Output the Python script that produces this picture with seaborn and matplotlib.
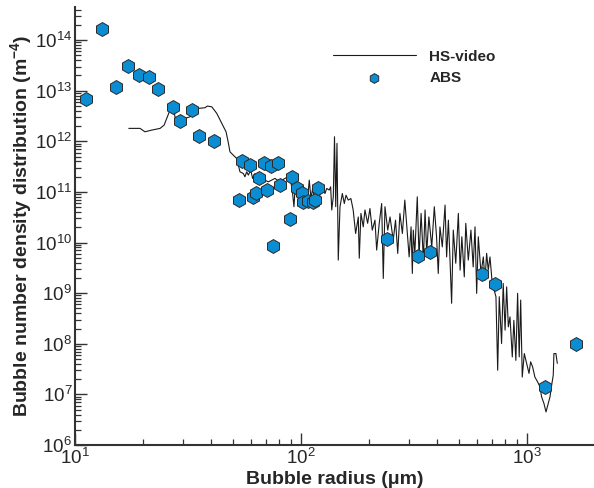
import numpy as np
import pandas as pd
import matplotlib
matplotlib.use("Agg")
import matplotlib.pyplot as plt
from matplotlib.ticker import LogLocator, NullFormatter
import seaborn as sns

# ---------------- data ----------------
abs_radius = [11.2, 13.2, 15.2, 17.2, 19.2, 21.2, 23.3, 27.2, 29.2, 33.0, 35.4, 41.4,
              53.2, 54.8, 59.4, 61.4, 63.0, 65.2, 68.6, 70.8, 73.6, 75.0, 79.0, 80.7,
              89.3, 91.2, 96.0, 101.0, 102.0, 107.0, 113.0, 115.0, 119.0,
              240.0, 330.0, 372.0, 632.0, 722.0, 1200.0, 1650.0]
abs_density = [6.8e12, 1.65e14, 1.18e13, 3.1e13, 2.04e13, 1.86e13, 1.07e13, 4.8e12, 2.5e12, 4.2e12, 1.3e12, 1.0e12,
               6.9e10, 4.1e11, 3.4e11, 8.0e10, 9.6e10, 1.85e11, 3.7e11, 1.1e11, 3.2e11, 8.5e9, 3.7e11, 1.35e11,
               2.9e10, 1.95e11, 1.2e11, 9.6e10, 6.3e10, 6.5e10, 6.3e10, 6.9e10, 1.2e11,
               1.18e10, 5.4e9, 6.5e9, 2.4e9, 1.5e9, 1.4e7, 9.8e7]

hs_radius = [17.3, 19.4, 20.4, 21.8, 23.8, 24.8, 25.5, 26.3, 27.2, 27.7, 28.6, 29.6,
             31.2, 32.3, 32.8, 35.2, 37.6, 38.5, 40.3, 42.4, 44.6, 46.6, 47.6, 48.5,
             50.2, 51.9, 53.7, 55.6, 56.5, 57.5, 58.5, 59.9, 61.1, 62.5, 64.7, 67.0,
             69.3, 71.7, 74.2, 76.7, 79.4, 83.6, 86.5, 89.3, 91.8, 93.1, 94.4, 97.3,
             99.7, 102.4, 104.2, 106.6, 108.8, 110.7, 112.6, 115.3, 118.1, 121.3, 124.7, 127.7,
             129.9, 133.4, 135.3, 136.8, 139.0, 140.7, 142.5, 144.3, 146.2, 148.8, 152.4, 155.5,
             158.2, 161.9, 166.3, 170.2, 174.5, 179.3, 181.1, 184.2, 188.6, 191.9, 197.2, 201.9,
             206.7, 212.5, 216.2, 222.0, 227.5, 231.3, 235.3, 242.0, 247.8, 256.0, 262.0, 268.0,
             274.0, 281.0, 288.0, 294.0, 301.0, 307.0, 311.0, 314.0, 319.0, 327.0, 333.0, 340.0,
             348.0, 354.0, 360.0, 368.0, 379.0, 389.0, 398.0, 405.0, 412.0, 422.0, 434.0, 441.0,
             449.0, 456.0, 464.0, 472.0, 484.0, 497.0, 506.0, 515.0, 528.0, 536.0, 550.0, 565.0,
             578.0, 589.0, 599.0, 609.0, 626.0, 641.0, 652.0, 663.0, 674.0, 686.0, 702.0, 729.0,
             742.0, 754.0, 772.0, 785.0, 800.0, 813.0, 827.0, 841.0, 861.0, 875.0, 893.0, 909.0,
             924.0, 938.0, 953.0, 973.0, 997.0, 1021.0, 1038.0, 1059.0, 1084.0, 1114.0, 1142.0, 1161.0,
             1189.0, 1214.0, 1242.0, 1264.0, 1286.0, 1307.0, 1316.0, 1343.0, 1362.0]
hs_density = [1.8e12, 1.8e12, 1.54e12, 1.66e12, 1.8e12, 2.09e12, 2.88e12, 4.1e12, 4.7e12, 3.05e12, 2.5e12, 2.6e12,
              2.9e12, 3.05e12, 3.95e12, 4.47e12, 4.6e12, 4.97e12, 4.8e12, 3.56e12, 2.26e12, 1.54e12, 9.8e11, 6.2e11,
              5.3e11, 4.6e11, 2.5e11, 2.3e11, 1.99e11, 2.5e11, 2.15e11, 2.7e11, 1.85e11, 2.3e11, 1.99e11, 2.15e11,
              1.71e11, 1.58e11, 1.71e11, 1.85e11, 1.66e11, 1.77e11, 1.94e11, 2.15e11, 9.3e10, 5.1e10, 1.47e11, 8.0e10,
              1.26e11, 6.9e10, 1.09e11, 5.9e10, 1.71e11, 7.4e10, 1.17e11, 6.4e10, 1.47e11, 8.6e10, 1.26e11, 9.3e10,
              1.17e11, 1.09e11, 1.26e11, 4.4e10, 8.0e10, 1.23e12, 5.1e10, 9.1e11, 4.5e9, 5.1e10, 9.3e10, 5.9e10,
              8.6e10, 6.9e10, 7.4e10, 4.4e10, 1.51e10, 3.2e10, 4.9e9, 3.76e10, 2.04e10, 4.4e10, 2.4e10, 4.7e10,
              1.76e10, 2.77e10, 7.1e9, 2.4e10, 5.9e10, 1.95e9, 5.1e10, 1.76e10, 3.2e10, 1.11e10, 2.77e10, 6.1e9,
              3.76e10, 1.51e10, 6.9e10, 2.04e10, 5.2e9, 2.04e10, 2.45e9, 1.76e10, 6.1e9, 8.0e10, 5.2e9, 3.76e10,
              4.5e9, 4.4e10, 6.1e9, 3.2e10, 8.2e9, 5.1e10, 1.3e10, 2.45e9, 2.04e10, 8.2e9, 5.5e10, 5.2e9,
              2.77e10, 5.2e9, 6.3e8, 1.76e10, 3.9e9, 3.76e10, 2.85e9, 1.3e10, 2.1e9, 2.4e10, 4.5e9, 1.76e10,
              3.3e9, 2.04e10, 9.9e8, 1.3e10, 2.45e9, 5.2e9, 1.8e9, 6.1e9, 2.85e9, 5.2e9, 1.56e9, 8.5e8,
              3.0e7, 8.5e8, 1.01e8, 1.56e9, 1.86e8, 1.33e9, 2.16e8, 3.4e8, 5.5e7, 2.9e8, 4.7e7, 9.9e8,
              5.5e7, 7.3e8, 2.2e7, 6.4e7, 4.1e7, 2.6e7, 4.4e7, 3.5e7, 2.2e7, 1.77e7, 1.41e7, 8.9e6,
              6.6e6, 4.5e6, 6.6e6, 8.9e6, 1.52e7, 2.4e7, 6.4e7, 6.4e7, 4.1e7]

x_label = "Bubble radius (\u03bcm)"
y_label = r"Bubble number density distribution (m$^{\mathbf{-4}}$)"
legend_labels = ["HS-video", "ABS"]

hs_df = pd.DataFrame({"radius": hs_radius, "density": hs_density})
abs_df = pd.DataFrame({"radius": abs_radius, "density": abs_density})

# ---------------- style ----------------
sns.set_style("ticks")
plt.rcParams["font.family"] = ["Liberation Sans", "DejaVu Sans"]
plt.rcParams["mathtext.fontset"] = "custom"
plt.rcParams["mathtext.rm"] = "Liberation Sans"
plt.rcParams["mathtext.it"] = "Liberation Sans:italic"
plt.rcParams["mathtext.bf"] = "Liberation Sans:bold"

text_color = "#262626"
spine_color = "#333333"

fig = plt.figure(figsize=(5.94, 4.88), dpi=100)
ax = fig.add_axes([75 / 594, 43 / 488, 520 / 594, 438 / 488])

sns.lineplot(data=hs_df, x="radius", y="density", sort=False, estimator=None,
             color="#1a1a1a", linewidth=0.8, ax=ax, label=legend_labels[0])
sns.scatterplot(data=abs_df, x="radius", y="density", marker="h", s=100,
                color="#0b8dd4", edgecolor="#2a2a2a", linewidth=0.7, ax=ax,
                label=legend_labels[1], zorder=3)

ax.set_xscale("log")
ax.set_yscale("log")
ax.set_xlim(10, 2000)
ax.set_ylim(1e6, 4.5e14)

ax.xaxis.set_major_locator(LogLocator(base=10, numticks=20))
ax.xaxis.set_minor_locator(LogLocator(base=10, subs=np.arange(2, 10), numticks=20))
ax.yaxis.set_major_locator(LogLocator(base=10, numticks=20))
ax.yaxis.set_minor_locator(LogLocator(base=10, subs=np.arange(2, 10), numticks=20))
ax.xaxis.set_minor_formatter(NullFormatter())
ax.yaxis.set_minor_formatter(NullFormatter())

sns.despine(ax=ax, top=True, right=True)
for side in ["left", "bottom"]:
    ax.spines[side].set_linewidth(1.5)
    ax.spines[side].set_color(spine_color)

ax.tick_params(which="major", direction="in", length=8.5, width=1.0, color=spine_color,
               labelsize=13.5, labelcolor=text_color, pad=2)
ax.tick_params(which="minor", direction="in", length=4.3, width=0.9, color=spine_color)

ax.set_xlabel(x_label, fontsize=14, fontweight="bold", color=text_color, labelpad=2)
ax.set_ylabel(y_label, fontsize=14, fontweight="bold", color=text_color, labelpad=1)

handles, labels = ax.get_legend_handles_labels()
leg = ax.legend(handles, labels, loc="upper left", bbox_to_anchor=(0.47, 0.934),
                frameon=False, fontsize=11, handlelength=5.4, handletextpad=0.9,
                labelspacing=0.45, markerscale=0.7)
for t in leg.get_texts():
    t.set_fontweight("bold")
    t.set_color(text_color)

fig.savefig("out.png", dpi=100)
